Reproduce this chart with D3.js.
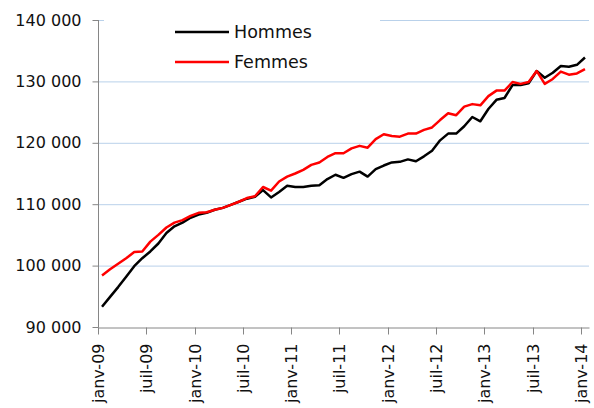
<!DOCTYPE html>
<html>
<head>
<meta charset="utf-8">
<script src="https://cdn.jsdelivr.net/npm/d3@7"></script>
<style>
    body { margin: 0; background: #fff; }
    svg { display: block; font-family: 'DejaVu Sans', sans-serif; }
    .grid line { stroke: #b9d1ea; stroke-width: 1; }
    .axis path, .axis line { stroke: #868686; }
    .axis text { fill: #111; font-size: 16px; font-family: 'DejaVu Sans', sans-serif; }
</style>
</head>
<body>
<svg class="chart" width="594" height="408"></svg>
<script>
// mois de janv-09 a janv-14
var monthNames = ['janv', 'févr', 'mars', 'avr', 'mai', 'juin', 'juil', 'août', 'sept', 'oct', 'nov', 'déc']
var years = ['09', '10', '11', '12', '13', '14']

var months = []
years.forEach(function(y) {
    monthNames.forEach(function(m) { months.push(m + '-' + y) })
})
months = months.slice(0, 61)

var tickLabels = ['janv-09', 'juil-09', 'janv-10', 'juil-10', 'janv-11', 'juil-11',
    'janv-12', 'juil-12', 'janv-13', 'juil-13', 'janv-14']

var yTicks = [90000, 100000, 110000, 120000, 130000, 140000]

var hommes = [
    93300, 94900, 96500, 98200, 99900, 101200, 102300, 103600, 105300, 106400, 107000, 107800,
    108300, 108600, 109100, 109400, 109900, 110400, 110900, 111200, 112300, 111100, 112000, 113000,
    112800, 112800, 113000, 113100, 114100, 114800, 114300, 114900, 115300, 114500, 115700, 116300,
    116800, 116900, 117300, 117000, 117800, 118700, 120400, 121500, 121500, 122700, 124200, 123500,
    125500, 127000, 127300, 129400, 129400, 129700, 131700, 130600, 131400, 132500, 132400, 132700,
    133900
]

var femmes = [
    98400, 99400, 100300, 101200, 102200, 102300, 103900, 105000, 106200, 107000, 107400, 108100,
    108600, 108700, 109100, 109400, 109900, 110400, 111000, 111300, 112800, 112200, 113700, 114500,
    115000, 115600, 116400, 116800, 117700, 118300, 118300, 119100, 119500, 119200, 120600, 121400,
    121100, 121000, 121500, 121500, 122100, 122500, 123700, 124800, 124500, 125900, 126300, 126100,
    127600, 128500, 128500, 129900, 129600, 129900, 131700, 129600, 130400, 131600, 131100, 131300,
    132000
]

var seriesNames = ['Hommes', 'Femmes']
var seriesColors = ['#000000', '#ff0000']

var svg = d3.select('.chart')

var xScale = d3.scaleBand().domain(months).range([98, 589]).padding(0)
var yScale = d3.scaleLinear().domain([90000, 140000]).range([327, 20])

var fmt = function(d) { return d3.format(',')(d).replace(/,/g, ' ') }

// grille horizontale
svg.append('g').attr('class', 'grid')
    .selectAll('line').data(yTicks.slice(1))
    .enter().append('line')
    .attr('x1', 98).attr('x2', 589)
    .attr('y1', function(d) { return yScale(d) + 0.5 })
    .attr('y2', function(d) { return yScale(d) + 0.5 })

// axe Y
var yAxis = d3.axisLeft(yScale).tickValues(yTicks).tickFormat(fmt).tickSize(6).tickPadding(11)
svg.append('g').attr('class', 'axis y-axis')
    .attr('transform', 'translate(98.5, 0)')
    .call(yAxis)
    .call(function(g) { g.select('.domain').attr('d', 'M0,' + 20 + 'V' + 327.5) })

// axe X
var xAxis = d3.axisBottom(xScale).tickValues(tickLabels).tickSize(7).tickSizeOuter(0)
svg.append('g').attr('class', 'axis x-axis')
    .attr('transform', 'translate(0, 327.5)')
    .call(xAxis)
    .call(function(g) {
        g.selectAll('.tick').attr('transform', function(d) {
            return 'translate(' + (Math.round(xScale(d)) + 0.5) + ',0)'
        })
        g.selectAll('.tick text')
            .attr('y', 0).attr('dy', '0.35em')
            .attr('text-anchor', 'end')
            .attr('transform', 'translate(0, 16) rotate(-90)')
    })

// courbes
var line = function(values) {
    return d3.line()
        .x(function(d, i) { return xScale(months[i]) + xScale.bandwidth() / 2 })
        .y(function(d) { return yScale(d) })(values)
}

;[hommes, femmes].forEach(function(values, k) {
    svg.append('path')
        .attr('d', line(values))
        .attr('fill', 'none')
        .attr('stroke', seriesColors[k])
        .attr('stroke-width', 2.5)
        .attr('stroke-linejoin', 'round')
})

// legende
var legend = svg.append('g').attr('class', 'legend')
legend.append('rect')
    .attr('x', 104).attr('y', 14).attr('width', 276).attr('height', 62)
    .attr('fill', '#fff')

seriesNames.forEach(function(name, i) {
    var ly = 32 + i * 30
    legend.append('line')
        .attr('x1', 175).attr('x2', 229)
        .attr('y1', ly).attr('y2', ly)
        .attr('stroke', seriesColors[i]).attr('stroke-width', 2.5)
    legend.append('text')
        .text(name)
        .attr('x', 234).attr('y', ly)
        .attr('dy', '0.35em')
        .attr('fill', '#111')
        .style('font-size', '17.5px')
})
</script>
</body>
</html>
